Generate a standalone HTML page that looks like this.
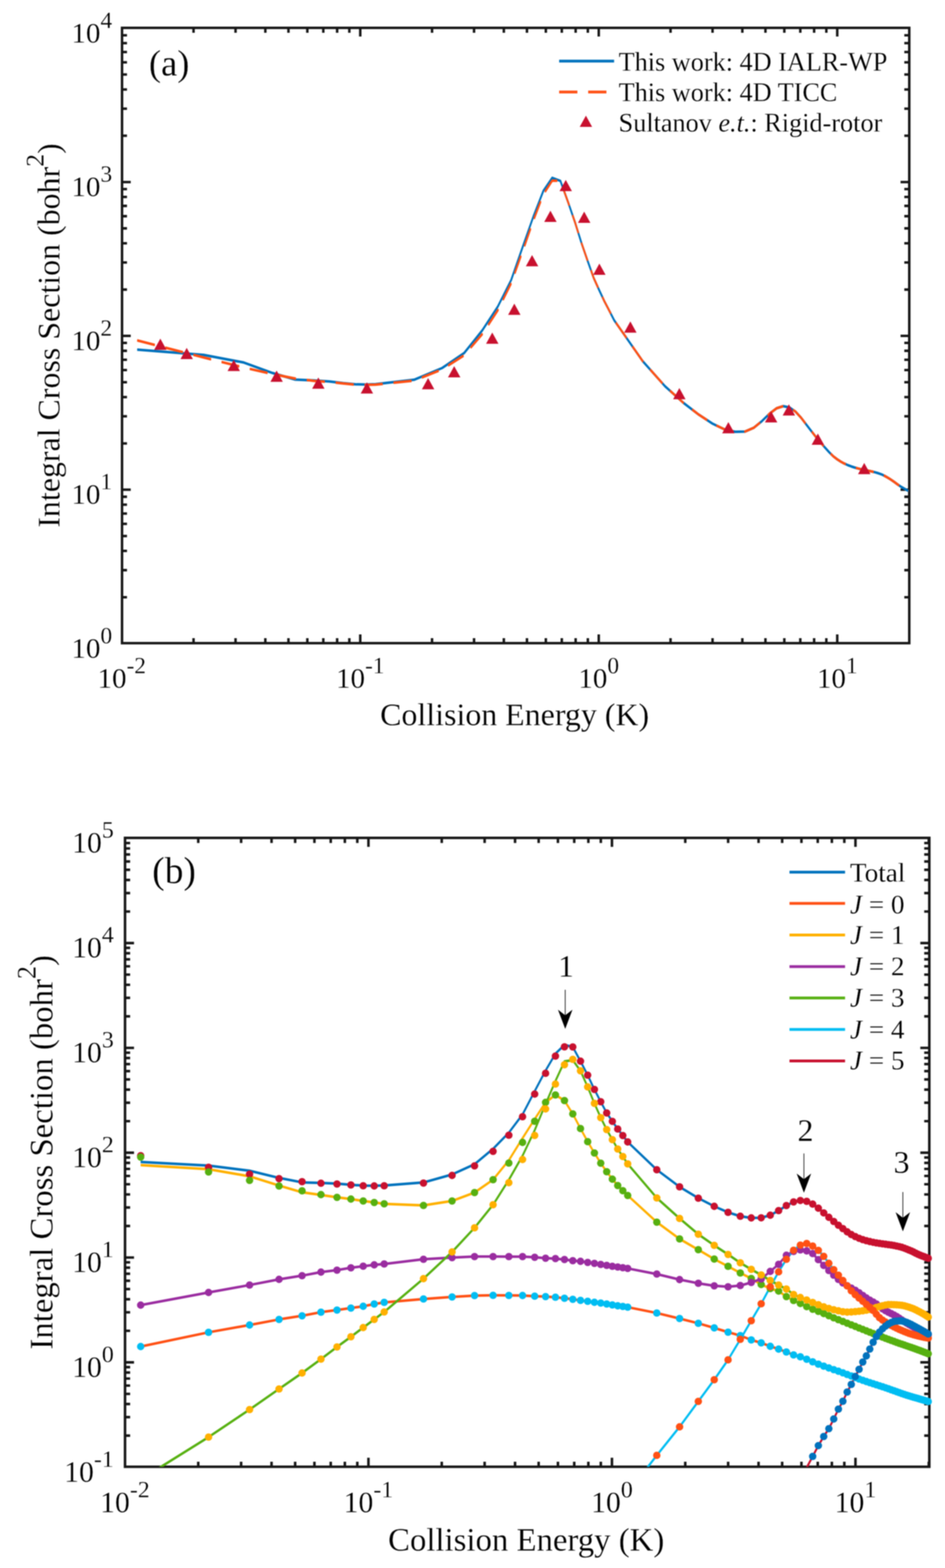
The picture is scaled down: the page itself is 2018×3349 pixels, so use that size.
<!DOCTYPE html>
<html lang="en"><head><meta charset="utf-8"><title>Integral cross sections</title>
<style>html,body{margin:0;padding:0;background:#fff}svg{display:block;filter:blur(0.9px)}text{font-family:"Liberation Serif", "DejaVu Serif", serif;fill:#000;stroke:#fff;stroke-width:0.35px;paint-order:fill stroke}</style></head><body>
<svg width="2018" height="3349" viewBox="0 0 2018 3349">
<rect width="2018" height="3349" fill="#fff"/>
<defs>
<clipPath id="ca"><rect x="260.6" y="59.5" width="1681.1" height="1314.2"/></clipPath>
<clipPath id="cb"><rect x="267" y="1789.6" width="1717.5" height="1343.2"/></clipPath>
</defs>
<g id="plot-a">
<path d="M413.31 1373.7v-10.6M413.31 59.5v10.6M503 1373.7v-10.6M503 59.5v10.6M566.63 1373.7v-10.6M566.63 59.5v10.6M615.99 1373.7v-10.6M615.99 59.5v10.6M656.31 1373.7v-10.6M656.31 59.5v10.6M690.41 1373.7v-10.6M690.41 59.5v10.6M719.94 1373.7v-10.6M719.94 59.5v10.6M746 1373.7v-10.6M746 59.5v10.6M769.3 1373.7v-18.6M769.3 59.5v18.6M922.61 1373.7v-10.6M922.61 59.5v10.6M1012.3 1373.7v-10.6M1012.3 59.5v10.6M1075.93 1373.7v-10.6M1075.93 59.5v10.6M1125.29 1373.7v-10.6M1125.29 59.5v10.6M1165.61 1373.7v-10.6M1165.61 59.5v10.6M1199.71 1373.7v-10.6M1199.71 59.5v10.6M1229.24 1373.7v-10.6M1229.24 59.5v10.6M1255.3 1373.7v-10.6M1255.3 59.5v10.6M1278.6 1373.7v-18.6M1278.6 59.5v18.6M1431.91 1373.7v-10.6M1431.91 59.5v10.6M1521.6 1373.7v-10.6M1521.6 59.5v10.6M1585.23 1373.7v-10.6M1585.23 59.5v10.6M1634.59 1373.7v-10.6M1634.59 59.5v10.6M1674.91 1373.7v-10.6M1674.91 59.5v10.6M1709.01 1373.7v-10.6M1709.01 59.5v10.6M1738.54 1373.7v-10.6M1738.54 59.5v10.6M1764.6 1373.7v-10.6M1764.6 59.5v10.6M1787.9 1373.7v-18.6M1787.9 59.5v18.6M260.6 1275.6h10.6M1941.7 1275.6h-10.6M260.6 1217.74h10.6M1941.7 1217.74h-10.6M260.6 1176.69h10.6M1941.7 1176.69h-10.6M260.6 1144.85h10.6M1941.7 1144.85h-10.6M260.6 1118.84h10.6M1941.7 1118.84h-10.6M260.6 1096.84h10.6M1941.7 1096.84h-10.6M260.6 1077.79h10.6M1941.7 1077.79h-10.6M260.6 1060.98h10.6M1941.7 1060.98h-10.6M260.6 1045.95h18.6M1941.7 1045.95h-18.6M260.6 947.05h10.6M1941.7 947.05h-10.6M260.6 889.19h10.6M1941.7 889.19h-10.6M260.6 848.14h10.6M1941.7 848.14h-10.6M260.6 816.3h10.6M1941.7 816.3h-10.6M260.6 790.29h10.6M1941.7 790.29h-10.6M260.6 768.29h10.6M1941.7 768.29h-10.6M260.6 749.24h10.6M1941.7 749.24h-10.6M260.6 732.43h10.6M1941.7 732.43h-10.6M260.6 717.4h18.6M1941.7 717.4h-18.6M260.6 618.5h10.6M1941.7 618.5h-10.6M260.6 560.64h10.6M1941.7 560.64h-10.6M260.6 519.59h10.6M1941.7 519.59h-10.6M260.6 487.75h10.6M1941.7 487.75h-10.6M260.6 461.74h10.6M1941.7 461.74h-10.6M260.6 439.74h10.6M1941.7 439.74h-10.6M260.6 420.69h10.6M1941.7 420.69h-10.6M260.6 403.88h10.6M1941.7 403.88h-10.6M260.6 388.85h18.6M1941.7 388.85h-18.6M260.6 289.95h10.6M1941.7 289.95h-10.6M260.6 232.09h10.6M1941.7 232.09h-10.6M260.6 191.04h10.6M1941.7 191.04h-10.6M260.6 159.2h10.6M1941.7 159.2h-10.6M260.6 133.19h10.6M1941.7 133.19h-10.6M260.6 111.19h10.6M1941.7 111.19h-10.6M260.6 92.14h10.6M1941.7 92.14h-10.6M260.6 75.33h10.6M1941.7 75.33h-10.6" stroke="#161616" stroke-width="5.3" fill="none"/>
<rect x="260.6" y="59.5" width="1681.1" height="1314.2" fill="none" stroke="#161616" stroke-width="5.3"/>
<g clip-path="url(#ca)">
<polyline points="292.91,745.7 434.88,756.9 520.65,773.2 582.3,795.7 630.46,809.7 669.98,811.3 703.5,813.7 732.6,817.2 758.32,819.7 781.35,820.2 802.21,819.4 884.4,810 944.18,784.9 991.2,752.9 1029.95,704.4 1062.92,653.9 1091.6,596.9 1116.99,523.9 1139.76,459.3 1160.4,406.4 1179.28,378.7 1196.68,385.2 1212.8,429.8 1227.83,473.6 1241.9,518.5 1255.14,556.9 1267.62,592.1 1279.44,618.4 1290.65,642.4 1301.33,662.9 1311.51,682.9 1372.36,770.11 1420.03,823.74 1459.23,859.13 1492.51,884.72 1521.44,903.66 1547.01,915.87 1569.94,921.07 1590.7,920.73 1609.69,912.6 1627.17,898.16 1643.37,882.43 1658.47,870.87 1672.6,866.42 1685.88,869.17 1698.41,877.74 1710.27,890.59 1721.52,905.32 1732.23,919.22 1742.45,932.17 1752.21,944 1761.56,954.69 1770.53,964.68 1779.16,973.19 1787.45,979.66 1795.45,984.94 1803.17,989.08 1810.63,992.4 1817.85,995.13 1824.83,997.41 1831.61,999.32 1838.18,1000.99 1844.56,1002.43 1850.76,1003.63 1856.8,1004.79 1862.67,1006.11 1868.39,1007.57 1873.97,1009.17 1879.41,1010.98 1884.72,1013.12 1889.91,1015.76 1894.97,1018.7 1899.93,1021.74 1904.77,1024.83 1909.51,1028.19 1914.15,1031.63 1918.7,1034.9 1923.15,1037.82 1927.52,1040.44 1931.8,1042.89 1936,1045.24 1940.12,1047.58" fill="none" stroke="#0072BD" stroke-width="3.3" stroke-linejoin="round" />
<polyline points="292.91,747.9 434.88,759.1 520.65,775.4 582.3,797.9 630.46,811.9 669.98,813.5 703.5,815.9 732.6,819.4 758.32,821.9 781.35,822.4 802.21,821.6 884.4,812.2 944.18,787.1 991.2,755.1 1029.95,706.6 1062.92,656.1 1091.6,599.1 1116.99,526.1 1139.76,461.5 1160.4,408.6 1179.28,380.9 1196.68,387.4 1212.8,432 1227.83,475.8 1241.9,520.7 1255.14,559.1 1267.62,594.3 1279.44,620.6 1290.65,644.6 1301.33,665.1 1311.51,685.1 1372.36,772.31 1420.03,825.94 1459.23,861.33 1492.51,886.92 1521.44,905.86 1547.01,918.07 1569.94,923.27 1590.7,922.93 1609.69,914.8 1627.17,900.36 1643.37,884.63 1658.47,873.07 1672.6,868.62 1685.88,871.37 1698.41,879.94 1710.27,892.79 1721.52,907.52 1732.23,921.42 1742.45,934.37 1752.21,946.2 1761.56,956.89 1770.53,966.88 1779.16,975.39 1787.45,981.86 1795.45,987.14 1803.17,991.28 1810.63,994.6 1817.85,997.33 1824.83,999.61 1831.61,1001.52 1838.18,1003.19 1844.56,1004.63 1850.76,1005.83 1856.8,1006.99 1862.67,1008.31 1868.39,1009.77 1873.97,1011.37 1879.41,1013.18 1884.72,1015.32 1889.91,1017.96 1894.97,1020.9 1899.93,1023.94 1904.77,1027.03 1909.51,1030.39 1914.15,1033.83 1918.7,1037.1 1923.15,1040.02 1927.52,1042.64 1931.8,1045.09 1936,1047.44 1940.12,1049.78" fill="none" stroke="#0072BD" stroke-width="3.3" stroke-linejoin="round" />
<polyline points="292.91,725.9 434.88,762.4 520.65,783.9 582.3,797.9 630.46,807.4 669.98,812.4 703.5,814.9 732.6,817.9 758.32,820.4 781.35,820.9 802.21,820.4 884.4,811.9 944.18,787.9 991.2,757.9 1029.95,712.4 1062.92,661.9 1091.6,603.9 1116.99,532.9 1139.76,467.8 1160.4,413.9 1179.28,384.7 1196.68,385.2 1212.8,429.8 1227.83,473.6 1241.9,518.5 1255.14,556.9 1267.62,592.1 1279.44,618.4 1290.65,642.4 1301.33,662.9 1311.51,682.9 1372.36,770.11 1420.03,823.74 1459.23,859.13 1492.51,884.72 1521.44,903.66 1547.01,915.87 1569.94,921.07 1590.7,920.73 1609.69,912.6 1627.17,898.16 1643.37,882.43 1658.47,870.87 1672.6,866.42 1685.88,869.17 1698.41,877.74 1710.27,890.59 1721.52,905.32 1732.23,919.22 1742.45,932.17 1752.21,944 1761.56,954.69 1770.53,964.68 1779.16,973.19 1787.45,979.66 1795.45,984.94 1803.17,989.08 1810.63,992.4 1817.85,995.13 1824.83,997.41 1831.61,999.32 1838.18,1000.99 1844.56,1002.43 1850.76,1003.63 1856.8,1004.79 1862.67,1006.11 1868.39,1007.57 1873.97,1009.17 1879.41,1010.98 1884.72,1013.12 1889.91,1015.76 1894.97,1018.7 1899.93,1021.74 1904.77,1024.83 1909.51,1028.19 1914.15,1031.63 1918.7,1034.9 1923.15,1037.82 1927.52,1040.44 1931.8,1042.89 1936,1045.24 1940.12,1047.58" fill="none" stroke="#FF5014" stroke-width="3.3" stroke-linejoin="round" stroke-dasharray="39 23" stroke-linejoin="round"/>
<polyline points="292.91,728.1 434.88,764.6 520.65,786.1 582.3,800.1 630.46,809.6 669.98,814.6 703.5,817.1 732.6,820.1 758.32,822.6 781.35,823.1 802.21,822.6 884.4,814.1 944.18,790.1 991.2,760.1 1029.95,714.6 1062.92,664.1 1091.6,606.1 1116.99,535.1 1139.76,470 1160.4,416.1 1179.28,386.9 1196.68,387.4 1212.8,432 1227.83,475.8 1241.9,520.7 1255.14,559.1 1267.62,594.3 1279.44,620.6 1290.65,644.6 1301.33,665.1 1311.51,685.1 1372.36,772.31 1420.03,825.94 1459.23,861.33 1492.51,886.92 1521.44,905.86 1547.01,918.07 1569.94,923.27 1590.7,922.93 1609.69,914.8 1627.17,900.36 1643.37,884.63 1658.47,873.07 1672.6,868.62 1685.88,871.37 1698.41,879.94 1710.27,892.79 1721.52,907.52 1732.23,921.42 1742.45,934.37 1752.21,946.2 1761.56,956.89 1770.53,966.88 1779.16,975.39 1787.45,981.86 1795.45,987.14 1803.17,991.28 1810.63,994.6 1817.85,997.33 1824.83,999.61 1831.61,1001.52 1838.18,1003.19 1844.56,1004.63 1850.76,1005.83 1856.8,1006.99 1862.67,1008.31 1868.39,1009.77 1873.97,1011.37 1879.41,1013.18 1884.72,1015.32 1889.91,1017.96 1894.97,1020.9 1899.93,1023.94 1904.77,1027.03 1909.51,1030.39 1914.15,1033.83 1918.7,1037.1 1923.15,1040.02 1927.52,1042.64 1931.8,1045.09 1936,1047.44 1940.12,1049.78" fill="none" stroke="#FF5014" stroke-width="3.3" stroke-linejoin="round" stroke-dasharray="39 23" stroke-linejoin="round"/>
</g>
<path d="M342.4 723.3l13.25 24h-26.5zM398.7 742.9l13.25 24h-26.5zM499.2 768.5l13.25 24h-26.5zM590.7 791.4l13.25 24h-26.5zM679.8 806.2l13.25 24h-26.5zM783.5 816.5l13.25 24h-26.5zM914.2 807.6l13.25 24h-26.5zM969.9 782l13.25 24h-26.5zM1051.2 710.3l13.25 24h-26.5zM1098.3 648.4l13.25 24h-26.5zM1136.2 544.8l13.25 24h-26.5zM1175.4 449.9l13.25 24h-26.5zM1208.1 384.2l13.25 24h-26.5zM1247.5 451.9l13.25 24h-26.5zM1279.9 563.1l13.25 24h-26.5zM1346.1 686.6l13.25 24h-26.5zM1450.7 828.7l13.25 24h-26.5zM1555.4 901.4l13.25 24h-26.5zM1646.7 878.2l13.25 24h-26.5zM1684.6 863.4l13.25 24h-26.5zM1746.5 926.1l13.25 24h-26.5zM1845.5 988.7l13.25 24h-26.5z" fill="#C8102E"/>
<path d="M1194 130.6H1311.4" stroke="#0072BD" stroke-width="6.0"/>
<path d="M1194 196.6H1311.4" stroke="#FF5014" stroke-width="6.0" stroke-dasharray="39 23"/>
<path d="M1251.2 247l13.25 24h-26.5z" fill="#C8102E"/>
<text x="1321" y="151.4" font-size="56">This work: 4D IALR-WP</text>
<text x="1321" y="215.5" font-size="56">This work: 4D TICC</text>
<text x="1321" y="280.7" font-size="56">Sultanov <tspan font-style="italic">e.t.</tspan>: Rigid-rotor</text>
<text x="318" y="161" font-size="78">(a)</text>
<text x="260" y="1468.9" font-size="62" text-anchor="middle">10<tspan font-size="50" dy="-31">-2</tspan></text>
<text x="769.3" y="1468.9" font-size="62" text-anchor="middle">10<tspan font-size="50" dy="-31">-1</tspan></text>
<text x="1278.6" y="1468.9" font-size="62" text-anchor="middle">10<tspan font-size="50" dy="-31">0</tspan></text>
<text x="1787.9" y="1468.9" font-size="62" text-anchor="middle">10<tspan font-size="50" dy="-31">1</tspan></text>
<text x="239.5" y="1404.7" font-size="62" text-anchor="end">10<tspan font-size="50" dy="-31">0</tspan></text>
<text x="239.5" y="1076.15" font-size="62" text-anchor="end">10<tspan font-size="50" dy="-31">1</tspan></text>
<text x="239.5" y="747.6" font-size="62" text-anchor="end">10<tspan font-size="50" dy="-31">2</tspan></text>
<text x="239.5" y="419.05" font-size="62" text-anchor="end">10<tspan font-size="50" dy="-31">3</tspan></text>
<text x="239.5" y="90.5" font-size="62" text-anchor="end">10<tspan font-size="50" dy="-31">4</tspan></text>
<text x="1099" y="1548.8" font-size="68.2" text-anchor="middle">Collision Energy (K)</text>
<text transform="translate(127.4 716.6) rotate(-90)" font-size="68.2" text-anchor="middle">Integral Cross Section (bohr<tspan font-size="55" dy="-34.1">2</tspan><tspan dy="34.1">)</tspan></text>
</g>
<g id="plot-b">
<path d="M423.34 3132.8v-10.9M423.34 1789.6v10.9M514.9 3132.8v-10.9M514.9 1789.6v10.9M579.87 3132.8v-10.9M579.87 1789.6v10.9M630.26 3132.8v-10.9M630.26 1789.6v10.9M671.44 3132.8v-10.9M671.44 1789.6v10.9M706.25 3132.8v-10.9M706.25 1789.6v10.9M736.41 3132.8v-10.9M736.41 1789.6v10.9M763.01 3132.8v-10.9M763.01 1789.6v10.9M786.8 3132.8v-19.2M786.8 1789.6v19.2M943.34 3132.8v-10.9M943.34 1789.6v10.9M1034.9 3132.8v-10.9M1034.9 1789.6v10.9M1099.87 3132.8v-10.9M1099.87 1789.6v10.9M1150.26 3132.8v-10.9M1150.26 1789.6v10.9M1191.44 3132.8v-10.9M1191.44 1789.6v10.9M1226.25 3132.8v-10.9M1226.25 1789.6v10.9M1256.41 3132.8v-10.9M1256.41 1789.6v10.9M1283.01 3132.8v-10.9M1283.01 1789.6v10.9M1306.8 3132.8v-19.2M1306.8 1789.6v19.2M1463.34 3132.8v-10.9M1463.34 1789.6v10.9M1554.9 3132.8v-10.9M1554.9 1789.6v10.9M1619.87 3132.8v-10.9M1619.87 1789.6v10.9M1670.26 3132.8v-10.9M1670.26 1789.6v10.9M1711.44 3132.8v-10.9M1711.44 1789.6v10.9M1746.25 3132.8v-10.9M1746.25 1789.6v10.9M1776.41 3132.8v-10.9M1776.41 1789.6v10.9M1803.01 3132.8v-10.9M1803.01 1789.6v10.9M1826.8 3132.8v-19.2M1826.8 1789.6v19.2M1983.34 3132.8v-10.9M1983.34 1789.6v10.9M267 3066.21h10.9M1984.5 3066.21h-10.9M267 3026.79h10.9M1984.5 3026.79h-10.9M267 2998.82h10.9M1984.5 2998.82h-10.9M267 2977.12h10.9M1984.5 2977.12h-10.9M267 2959.4h10.9M1984.5 2959.4h-10.9M267 2944.41h10.9M1984.5 2944.41h-10.9M267 2931.43h10.9M1984.5 2931.43h-10.9M267 2919.97h10.9M1984.5 2919.97h-10.9M267 2909.73h19.2M1984.5 2909.73h-19.2M267 2842.34h10.9M1984.5 2842.34h-10.9M267 2802.92h10.9M1984.5 2802.92h-10.9M267 2774.95h10.9M1984.5 2774.95h-10.9M267 2753.25h10.9M1984.5 2753.25h-10.9M267 2735.53h10.9M1984.5 2735.53h-10.9M267 2720.54h10.9M1984.5 2720.54h-10.9M267 2707.56h10.9M1984.5 2707.56h-10.9M267 2696.1h10.9M1984.5 2696.1h-10.9M267 2685.86h19.2M1984.5 2685.86h-19.2M267 2618.47h10.9M1984.5 2618.47h-10.9M267 2579.05h10.9M1984.5 2579.05h-10.9M267 2551.08h10.9M1984.5 2551.08h-10.9M267 2529.38h10.9M1984.5 2529.38h-10.9M267 2511.66h10.9M1984.5 2511.66h-10.9M267 2496.67h10.9M1984.5 2496.67h-10.9M267 2483.69h10.9M1984.5 2483.69h-10.9M267 2472.23h10.9M1984.5 2472.23h-10.9M267 2461.99h19.2M1984.5 2461.99h-19.2M267 2394.6h10.9M1984.5 2394.6h-10.9M267 2355.18h10.9M1984.5 2355.18h-10.9M267 2327.21h10.9M1984.5 2327.21h-10.9M267 2305.51h10.9M1984.5 2305.51h-10.9M267 2287.79h10.9M1984.5 2287.79h-10.9M267 2272.8h10.9M1984.5 2272.8h-10.9M267 2259.82h10.9M1984.5 2259.82h-10.9M267 2248.36h10.9M1984.5 2248.36h-10.9M267 2238.12h19.2M1984.5 2238.12h-19.2M267 2170.73h10.9M1984.5 2170.73h-10.9M267 2131.31h10.9M1984.5 2131.31h-10.9M267 2103.34h10.9M1984.5 2103.34h-10.9M267 2081.64h10.9M1984.5 2081.64h-10.9M267 2063.92h10.9M1984.5 2063.92h-10.9M267 2048.93h10.9M1984.5 2048.93h-10.9M267 2035.95h10.9M1984.5 2035.95h-10.9M267 2024.49h10.9M1984.5 2024.49h-10.9M267 2014.25h19.2M1984.5 2014.25h-19.2M267 1946.86h10.9M1984.5 1946.86h-10.9M267 1907.44h10.9M1984.5 1907.44h-10.9M267 1879.47h10.9M1984.5 1879.47h-10.9M267 1857.77h10.9M1984.5 1857.77h-10.9M267 1840.05h10.9M1984.5 1840.05h-10.9M267 1825.06h10.9M1984.5 1825.06h-10.9M267 1812.08h10.9M1984.5 1812.08h-10.9M267 1800.62h10.9M1984.5 1800.62h-10.9" stroke="#161616" stroke-width="5.4" fill="none"/>
<rect x="267" y="1789.6" width="1717.5" height="1343.2" fill="none" stroke="#161616" stroke-width="5.4"/>
<g clip-path="url(#cb)">
<polyline points="300.41,2480.67 445.36,2488.3 532.93,2499.41 595.87,2514.74 645.04,2524.28 685.39,2525.37 719.62,2527 749.33,2529.39 775.59,2531.09 799.11,2531.43 820.41,2530.89 904.32,2524.48 965.36,2507.38 1013.36,2485.57 1052.93,2452.53 1086.59,2418.12 1115.87,2379.28 1141.79,2329.54 1165.04,2285.52 1186.12,2249.47 1205.39,2230.6 1223.15,2235.03 1239.62,2265.42 1254.96,2295.26 1269.33,2325.86 1282.84,2352.02 1295.59,2376.01 1307.65,2393.93 1319.11,2410.28 1330.01,2424.25 1340.41,2437.88 1402.53,2497.3 1451.2,2533.85 1491.22,2557.95 1525.21,2575.4 1554.74,2588.3 1580.85,2596.62 1604.26,2600.16 1625.46,2599.93 1644.85,2594.39 1662.7,2584.56 1679.24,2573.83 1694.65,2565.96 1709.08,2562.93 1722.64,2564.8 1735.43,2570.64 1747.54,2579.39 1759.03,2589.43 1769.96,2598.91 1780.39,2607.73 1790.36,2615.78 1799.91,2623.07 1809.07,2629.88 1817.87,2635.67 1826.34,2640.09 1834.51,2643.68 1842.39,2646.5 1850.01,2648.76 1857.37,2650.63 1864.51,2652.18 1871.42,2653.48 1878.13,2654.62 1884.65,2655.6 1890.98,2656.42 1897.15,2657.21 1903.14,2658.11 1908.99,2659.1 1914.68,2660.19 1920.23,2661.43 1925.66,2662.89 1930.95,2664.68 1936.12,2666.68 1941.18,2668.76 1946.13,2670.86 1950.97,2673.16 1955.71,2675.49 1960.35,2677.73 1964.9,2679.72 1969.35,2681.5 1973.73,2683.17 1978.01,2684.77 1982.22,2686.36" fill="none" stroke="#0072BD" stroke-width="3.3" stroke-linejoin="round" />
<polyline points="300.41,2482.87 445.36,2490.5 532.93,2501.61 595.87,2516.94 645.04,2526.48 685.39,2527.57 719.62,2529.2 749.33,2531.59 775.59,2533.29 799.11,2533.63 820.41,2533.09 904.32,2526.68 965.36,2509.58 1013.36,2487.77 1052.93,2454.73 1086.59,2420.32 1115.87,2381.48 1141.79,2331.74 1165.04,2287.72 1186.12,2251.67 1205.39,2232.8 1223.15,2237.23 1239.62,2267.62 1254.96,2297.46 1269.33,2328.06 1282.84,2354.22 1295.59,2378.21 1307.65,2396.13 1319.11,2412.48 1330.01,2426.45 1340.41,2440.08 1402.53,2499.5 1451.2,2536.05 1491.22,2560.15 1525.21,2577.6 1554.74,2590.5 1580.85,2598.82 1604.26,2602.36 1625.46,2602.13 1644.85,2596.59 1662.7,2586.76 1679.24,2576.03 1694.65,2568.16 1709.08,2565.13 1722.64,2567 1735.43,2572.84 1747.54,2581.59 1759.03,2591.63 1769.96,2601.11 1780.39,2609.93 1790.36,2617.98 1799.91,2625.27 1809.07,2632.08 1817.87,2637.87 1826.34,2642.29 1834.51,2645.88 1842.39,2648.7 1850.01,2650.96 1857.37,2652.83 1864.51,2654.38 1871.42,2655.68 1878.13,2656.82 1884.65,2657.8 1890.98,2658.62 1897.15,2659.41 1903.14,2660.31 1908.99,2661.3 1914.68,2662.39 1920.23,2663.63 1925.66,2665.09 1930.95,2666.88 1936.12,2668.88 1941.18,2670.96 1946.13,2673.06 1950.97,2675.36 1955.71,2677.69 1960.35,2679.93 1964.9,2681.92 1969.35,2683.7 1973.73,2685.37 1978.01,2686.97 1982.22,2688.56" fill="none" stroke="#0072BD" stroke-width="3.3" stroke-linejoin="round" />
<polyline points="300.41,2874.9 445.36,2844.5 532.93,2828.9 595.87,2817 645.04,2809.2 685.39,2801.5 719.62,2797 749.33,2792.7 775.59,2788.9 799.11,2784.1 820.41,2780.6 904.32,2773.3 965.36,2769 1013.36,2766.1 1052.93,2765.5 1086.59,2765.7 1115.87,2765.9 1141.79,2767.3 1165.04,2768.2 1186.12,2769.6 1205.39,2771.7 1223.15,2774 1239.62,2776.3 1254.96,2778.3 1269.33,2780.4 1282.84,2782.1 1295.59,2784.1 1307.65,2786.1 1319.11,2787.9 1330.01,2789.3 1340.41,2790.8 1402.53,2803.3 1451.2,2815.1 1491.22,2825.3 1525.21,2835.1 1554.74,2844.2 1580.85,2851.5 1604.26,2860.7 1625.46,2867.1 1644.85,2874.4 1662.7,2880.4 1679.24,2886.6 1694.65,2892.8 1709.08,2896.86 1722.64,2902.05 1735.43,2907.52 1747.54,2912.57 1759.03,2916.83 1769.96,2920.64 1780.39,2924.19 1790.36,2927.63 1799.91,2931.06 1809.07,2934.5 1817.87,2937.89 1826.34,2941.15 1834.51,2944.22 1842.39,2947.06 1850.01,2949.66 1857.37,2952.07 1864.51,2954.35 1871.42,2956.54 1878.13,2958.68 1884.65,2960.8 1890.98,2962.93 1897.15,2965.08 1903.14,2967.22 1908.99,2969.32 1914.68,2971.38 1920.23,2973.36 1925.66,2975.25 1930.95,2977.03 1936.12,2978.71 1941.18,2980.28 1946.13,2981.77 1950.97,2983.19 1955.71,2984.56 1960.35,2985.89 1964.9,2987.19 1969.35,2988.47 1973.73,2989.74 1978.01,2991.02 1982.22,2992.3" fill="none" stroke="#FF5014" stroke-width="3.3" stroke-linejoin="round" />
<polyline points="300.41,2877.1 445.36,2846.7 532.93,2831.1 595.87,2819.2 645.04,2811.4 685.39,2803.7 719.62,2799.2 749.33,2794.9 775.59,2791.1 799.11,2786.3 820.41,2782.8 904.32,2775.5 965.36,2771.2 1013.36,2768.3 1052.93,2767.7 1086.59,2767.9 1115.87,2768.1 1141.79,2769.5 1165.04,2770.4 1186.12,2771.8 1205.39,2773.9 1223.15,2776.2 1239.62,2778.5 1254.96,2780.5 1269.33,2782.6 1282.84,2784.3 1295.59,2786.3 1307.65,2788.3 1319.11,2790.1 1330.01,2791.5 1340.41,2793 1402.53,2805.5 1451.2,2817.3 1491.22,2827.5 1525.21,2837.3 1554.74,2846.4 1580.85,2853.7 1604.26,2862.9 1625.46,2869.3 1644.85,2876.6 1662.7,2882.6 1679.24,2888.8 1694.65,2895 1709.08,2899.06 1722.64,2904.25 1735.43,2909.72 1747.54,2914.77 1759.03,2919.03 1769.96,2922.84 1780.39,2926.39 1790.36,2929.83 1799.91,2933.26 1809.07,2936.7 1817.87,2940.09 1826.34,2943.35 1834.51,2946.42 1842.39,2949.26 1850.01,2951.86 1857.37,2954.27 1864.51,2956.55 1871.42,2958.74 1878.13,2960.88 1884.65,2963 1890.98,2965.13 1897.15,2967.28 1903.14,2969.42 1908.99,2971.52 1914.68,2973.58 1920.23,2975.56 1925.66,2977.45 1930.95,2979.23 1936.12,2980.91 1941.18,2982.48 1946.13,2983.97 1950.97,2985.39 1955.71,2986.76 1960.35,2988.09 1964.9,2989.39 1969.35,2990.67 1973.73,2991.94 1978.01,2993.22 1982.22,2994.5" fill="none" stroke="#FF5014" stroke-width="3.3" stroke-linejoin="round" />
<polyline points="300.41,2487.3 445.36,2496.2 532.93,2511.3 595.87,2531 645.04,2545.5 685.39,2551.2 719.62,2556.2 749.33,2559.9 775.59,2564 799.11,2567.2 820.41,2570.1 904.32,2573.5 965.36,2564 1013.36,2546 1052.93,2518.5 1086.59,2477.1 1115.87,2429.9 1141.79,2389.2 1165.04,2353.4 1186.12,2337.6 1205.39,2349.5 1223.15,2378.1 1239.62,2409.3 1254.96,2437.3 1269.33,2461.5 1282.84,2483.2 1295.59,2501.5 1307.65,2517.4 1319.11,2531 1330.01,2542 1340.41,2552.2 1402.53,2609.2 1451.2,2645 1491.22,2668.1 1525.21,2688.1 1554.74,2703.6 1580.85,2717.7 1604.26,2729.5 1625.46,2742.4 1644.85,2751.1 1662.7,2756.4 1679.24,2768.22 1694.65,2776.52 1709.08,2782.92 1722.64,2789.64 1735.43,2795.25 1747.54,2799.8 1759.03,2804.4 1769.96,2809.09 1780.39,2813.5 1790.36,2817.56 1799.91,2821.36 1809.07,2824.99 1817.87,2828.49 1826.34,2831.89 1834.51,2835.19 1842.39,2838.37 1850.01,2841.42 1857.37,2844.35 1864.51,2847.15 1871.42,2849.82 1878.13,2852.39 1884.65,2854.87 1890.98,2857.26 1897.15,2859.55 1903.14,2861.77 1908.99,2863.91 1914.68,2865.97 1920.23,2867.94 1925.66,2869.82 1930.95,2871.65 1936.12,2873.43 1941.18,2875.18 1946.13,2876.89 1950.97,2878.6 1955.71,2880.29 1960.35,2881.99 1964.9,2883.67 1969.35,2885.35 1973.73,2887 1978.01,2888.63 1982.22,2890.24" fill="none" stroke="#FFB000" stroke-width="3.3" stroke-linejoin="round" />
<polyline points="300.41,2489.5 445.36,2498.4 532.93,2513.5 595.87,2533.2 645.04,2547.7 685.39,2553.4 719.62,2558.4 749.33,2562.1 775.59,2566.2 799.11,2569.4 820.41,2572.3 904.32,2575.7 965.36,2566.2 1013.36,2548.2 1052.93,2520.7 1086.59,2479.3 1115.87,2432.1 1141.79,2391.4 1165.04,2355.6 1186.12,2339.8 1205.39,2351.7 1223.15,2380.3 1239.62,2411.5 1254.96,2439.5 1269.33,2463.7 1282.84,2485.4 1295.59,2503.7 1307.65,2519.6 1319.11,2533.2 1330.01,2544.2 1340.41,2554.4 1402.53,2611.4 1451.2,2647.2 1491.22,2670.3 1525.21,2690.3 1554.74,2705.8 1580.85,2719.9 1604.26,2731.7 1625.46,2744.6 1644.85,2753.3 1662.7,2758.6 1679.24,2770.42 1694.65,2778.72 1709.08,2785.12 1722.64,2791.84 1735.43,2797.45 1747.54,2802 1759.03,2806.6 1769.96,2811.29 1780.39,2815.7 1790.36,2819.76 1799.91,2823.56 1809.07,2827.19 1817.87,2830.69 1826.34,2834.09 1834.51,2837.39 1842.39,2840.57 1850.01,2843.62 1857.37,2846.55 1864.51,2849.35 1871.42,2852.02 1878.13,2854.59 1884.65,2857.07 1890.98,2859.46 1897.15,2861.75 1903.14,2863.97 1908.99,2866.11 1914.68,2868.17 1920.23,2870.14 1925.66,2872.02 1930.95,2873.85 1936.12,2875.63 1941.18,2877.38 1946.13,2879.09 1950.97,2880.8 1955.71,2882.49 1960.35,2884.19 1964.9,2885.87 1969.35,2887.55 1973.73,2889.2 1978.01,2890.83 1982.22,2892.44" fill="none" stroke="#FFB000" stroke-width="3.3" stroke-linejoin="round" />
<polyline points="300.41,2786.4 445.36,2759.4 532.93,2743.5 595.87,2731.4 645.04,2723.5 685.39,2715.9 719.62,2711.7 749.33,2706.7 775.59,2703.3 799.11,2700.4 820.41,2698.6 904.32,2688.5 965.36,2685 1013.36,2682.7 1052.93,2682.7 1086.59,2682.8 1115.87,2682.8 1141.79,2684.2 1165.04,2686.2 1186.12,2687.1 1205.39,2689.1 1223.15,2691.5 1239.62,2692.9 1254.96,2695.2 1269.33,2697.2 1282.84,2699.6 1295.59,2701.6 1307.65,2703.6 1319.11,2705.1 1330.01,2706.5 1340.41,2708 1402.53,2720.1 1451.2,2731.9 1491.22,2739.8 1525.21,2745.2 1554.74,2747.2 1580.85,2744.6 1604.26,2738.1 1625.46,2730.6 1644.85,2714.4 1662.7,2699.3 1679.24,2679.9 1694.65,2671.69 1709.08,2668.6 1722.64,2670.63 1735.43,2676.33 1747.54,2689.3 1759.03,2701.64 1769.96,2712.55 1780.39,2722.48 1790.36,2731.53 1799.91,2739.11 1809.07,2745.02 1817.87,2750.01 1826.34,2754.84 1834.51,2760.05 1842.39,2765.71 1850.01,2771.15 1857.37,2775.81 1864.51,2779.74 1871.42,2783.94 1878.13,2789.07 1884.65,2794.22 1890.98,2798.35 1897.15,2801.63 1903.14,2804.57 1908.99,2807.54 1914.68,2810.83 1920.23,2814.37 1925.66,2817.98 1930.95,2821.52 1936.12,2824.85 1941.18,2827.87 1946.13,2830.68 1950.97,2833.35 1955.71,2835.89 1960.35,2838.34 1964.9,2840.7 1969.35,2843.01 1973.73,2845.26 1978.01,2847.49 1982.22,2849.7" fill="none" stroke="#9A2CA0" stroke-width="3.3" stroke-linejoin="round" />
<polyline points="300.41,2788.6 445.36,2761.6 532.93,2745.7 595.87,2733.6 645.04,2725.7 685.39,2718.1 719.62,2713.9 749.33,2708.9 775.59,2705.5 799.11,2702.6 820.41,2700.8 904.32,2690.7 965.36,2687.2 1013.36,2684.9 1052.93,2684.9 1086.59,2685 1115.87,2685 1141.79,2686.4 1165.04,2688.4 1186.12,2689.3 1205.39,2691.3 1223.15,2693.7 1239.62,2695.1 1254.96,2697.4 1269.33,2699.4 1282.84,2701.8 1295.59,2703.8 1307.65,2705.8 1319.11,2707.3 1330.01,2708.7 1340.41,2710.2 1402.53,2722.3 1451.2,2734.1 1491.22,2742 1525.21,2747.4 1554.74,2749.4 1580.85,2746.8 1604.26,2740.3 1625.46,2732.8 1644.85,2716.6 1662.7,2701.5 1679.24,2682.1 1694.65,2673.89 1709.08,2670.8 1722.64,2672.83 1735.43,2678.53 1747.54,2691.5 1759.03,2703.84 1769.96,2714.75 1780.39,2724.68 1790.36,2733.73 1799.91,2741.31 1809.07,2747.22 1817.87,2752.21 1826.34,2757.04 1834.51,2762.25 1842.39,2767.91 1850.01,2773.35 1857.37,2778.01 1864.51,2781.94 1871.42,2786.14 1878.13,2791.27 1884.65,2796.42 1890.98,2800.55 1897.15,2803.83 1903.14,2806.77 1908.99,2809.74 1914.68,2813.03 1920.23,2816.57 1925.66,2820.18 1930.95,2823.72 1936.12,2827.05 1941.18,2830.07 1946.13,2832.88 1950.97,2835.55 1955.71,2838.09 1960.35,2840.54 1964.9,2842.9 1969.35,2845.21 1973.73,2847.46 1978.01,2849.69 1982.22,2851.9" fill="none" stroke="#9A2CA0" stroke-width="3.3" stroke-linejoin="round" />
<polyline points="300.41,3158.9 445.36,3068.3 532.93,3009.5 595.87,2965.5 645.04,2931.4 685.39,2901.8 719.62,2875.8 749.33,2854.1 775.59,2834.4 799.11,2817 820.41,2801.1 904.32,2729.9 965.36,2672.9 1013.36,2621.3 1052.93,2572.1 1086.59,2518.9 1115.87,2467.4 1141.79,2413 1165.04,2356.9 1186.12,2307.8 1205.39,2266 1223.15,2263.2 1239.62,2286.1 1254.96,2320.4 1269.33,2355.6 1282.84,2386 1295.59,2411.6 1307.65,2433.1 1319.11,2453.1 1330.01,2469.1 1340.41,2484.7 1402.53,2557.5 1451.2,2601.3 1491.22,2635.1 1525.21,2658.8 1554.74,2678.2 1580.85,2696.1 1604.26,2710.1 1625.46,2722 1644.85,2733.8 1662.7,2743.5 1679.24,2752.1 1694.65,2763.76 1709.08,2770.14 1722.64,2775.56 1735.43,2780.69 1747.54,2785.53 1759.03,2789.98 1769.96,2793.43 1780.39,2796.23 1790.36,2798.5 1799.91,2800.58 1809.07,2801.4 1817.87,2801.05 1826.34,2800.36 1834.51,2799.57 1842.39,2798.52 1850.01,2797.21 1857.37,2795.66 1864.51,2793.51 1871.42,2791.26 1878.13,2789.44 1884.65,2787.75 1890.98,2786.23 1897.15,2785.31 1903.14,2785.23 1908.99,2785.43 1914.68,2785.76 1920.23,2786.18 1925.66,2786.74 1930.95,2787.8 1936.12,2789.23 1941.18,2790.86 1946.13,2792.54 1950.97,2794.42 1955.71,2796.59 1960.35,2798.94 1964.9,2801.37 1969.35,2803.82 1973.73,2806.41 1978.01,2809.13 1982.22,2811.9" fill="none" stroke="#56B010" stroke-width="3.3" stroke-linejoin="round" />
<polyline points="300.41,3161.1 445.36,3070.5 532.93,3011.7 595.87,2967.7 645.04,2933.6 685.39,2904 719.62,2878 749.33,2856.3 775.59,2836.6 799.11,2819.2 820.41,2803.3 904.32,2732.1 965.36,2675.1 1013.36,2623.5 1052.93,2574.3 1086.59,2521.1 1115.87,2469.6 1141.79,2415.2 1165.04,2359.1 1186.12,2310 1205.39,2268.2 1223.15,2265.4 1239.62,2288.3 1254.96,2322.6 1269.33,2357.8 1282.84,2388.2 1295.59,2413.8 1307.65,2435.3 1319.11,2455.3 1330.01,2471.3 1340.41,2486.9 1402.53,2559.7 1451.2,2603.5 1491.22,2637.3 1525.21,2661 1554.74,2680.4 1580.85,2698.3 1604.26,2712.3 1625.46,2724.2 1644.85,2736 1662.7,2745.7 1679.24,2754.3 1694.65,2765.96 1709.08,2772.34 1722.64,2777.76 1735.43,2782.89 1747.54,2787.73 1759.03,2792.18 1769.96,2795.63 1780.39,2798.43 1790.36,2800.7 1799.91,2802.78 1809.07,2803.6 1817.87,2803.25 1826.34,2802.56 1834.51,2801.77 1842.39,2800.72 1850.01,2799.41 1857.37,2797.86 1864.51,2795.71 1871.42,2793.46 1878.13,2791.64 1884.65,2789.95 1890.98,2788.43 1897.15,2787.51 1903.14,2787.43 1908.99,2787.63 1914.68,2787.96 1920.23,2788.38 1925.66,2788.94 1930.95,2790 1936.12,2791.43 1941.18,2793.06 1946.13,2794.74 1950.97,2796.62 1955.71,2798.79 1960.35,2801.14 1964.9,2803.57 1969.35,2806.02 1973.73,2808.61 1978.01,2811.33 1982.22,2814.1" fill="none" stroke="#56B010" stroke-width="3.3" stroke-linejoin="round" />
<polyline points="1340.41,3187.9 1402.53,3107.3 1451.2,3046.4 1491.22,2992.1 1525.21,2945.8 1554.74,2903.3 1580.85,2859.6 1604.26,2819.7 1625.46,2783.6 1644.85,2747.4 1662.7,2715.3 1679.24,2688.6 1694.65,2669.2 1709.08,2658.23 1722.64,2654.83 1735.43,2660.36 1747.54,2669.56 1759.03,2682.2 1769.96,2697.15 1780.39,2710.74 1790.36,2722.53 1799.91,2733.92 1809.07,2745.4 1817.87,2755.75 1826.34,2764.13 1834.51,2771.31 1842.39,2778.15 1850.01,2784.73 1857.37,2791.03 1864.51,2797.72 1871.42,2805.93 1878.13,2813.34 1884.65,2818.43 1890.98,2822.62 1897.15,2826.28 1903.14,2829.71 1908.99,2832.83 1914.68,2835.67 1920.23,2838.25 1925.66,2840.62 1930.95,2842.83 1936.12,2844.87 1941.18,2846.71 1946.13,2848.33 1950.97,2849.78 1955.71,2851.09 1960.35,2852.28 1964.9,2853.37 1969.35,2854.36 1973.73,2855.24 1978.01,2856.03 1982.22,2856.79" fill="none" stroke="#00BDF2" stroke-width="3.3" stroke-linejoin="round" />
<polyline points="1340.41,3190.1 1402.53,3109.5 1451.2,3048.6 1491.22,2994.3 1525.21,2948 1554.74,2905.5 1580.85,2861.8 1604.26,2821.9 1625.46,2785.8 1644.85,2749.6 1662.7,2717.5 1679.24,2690.8 1694.65,2671.4 1709.08,2660.43 1722.64,2657.03 1735.43,2662.56 1747.54,2671.76 1759.03,2684.4 1769.96,2699.35 1780.39,2712.94 1790.36,2724.73 1799.91,2736.12 1809.07,2747.6 1817.87,2757.95 1826.34,2766.33 1834.51,2773.51 1842.39,2780.35 1850.01,2786.93 1857.37,2793.23 1864.51,2799.92 1871.42,2808.13 1878.13,2815.54 1884.65,2820.63 1890.98,2824.82 1897.15,2828.48 1903.14,2831.91 1908.99,2835.03 1914.68,2837.87 1920.23,2840.45 1925.66,2842.82 1930.95,2845.03 1936.12,2847.07 1941.18,2848.91 1946.13,2850.53 1950.97,2851.98 1955.71,2853.29 1960.35,2854.48 1964.9,2855.57 1969.35,2856.56 1973.73,2857.44 1978.01,2858.23 1982.22,2858.99" fill="none" stroke="#00BDF2" stroke-width="3.3" stroke-linejoin="round" />
<polyline points="1709.08,3158.9 1722.64,3133.6 1735.43,3109.49 1747.54,3086.43 1759.03,3067.03 1769.96,3050.27 1780.39,3029.63 1790.36,3008.55 1799.91,2991.69 1809.07,2972.09 1817.87,2955.79 1826.34,2938.88 1834.51,2923.6 1842.39,2907.95 1850.01,2894.91 1857.37,2880.22 1864.51,2865.76 1871.42,2853.59 1878.13,2843.97 1884.65,2836.93 1890.98,2831.36 1897.15,2826.79 1903.14,2823.66 1908.99,2821.42 1914.68,2820.47 1920.23,2819.97 1925.66,2820.17 1930.95,2821.62 1936.12,2823.36 1941.18,2825.52 1946.13,2827.9 1950.97,2830.47 1955.71,2833.13 1960.35,2835.67 1964.9,2838.15 1969.35,2840.63 1973.73,2843.14 1978.01,2845.64 1982.22,2848.1" fill="none" stroke="#C8102E" stroke-width="3.3" stroke-linejoin="round" />
<polyline points="1709.08,3161.1 1722.64,3135.8 1735.43,3111.69 1747.54,3088.63 1759.03,3069.23 1769.96,3052.47 1780.39,3031.83 1790.36,3010.75 1799.91,2993.89 1809.07,2974.29 1817.87,2957.99 1826.34,2941.08 1834.51,2925.8 1842.39,2910.15 1850.01,2897.11 1857.37,2882.42 1864.51,2867.96 1871.42,2855.79 1878.13,2846.17 1884.65,2839.13 1890.98,2833.56 1897.15,2828.99 1903.14,2825.86 1908.99,2823.62 1914.68,2822.67 1920.23,2822.17 1925.66,2822.37 1930.95,2823.82 1936.12,2825.56 1941.18,2827.72 1946.13,2830.1 1950.97,2832.67 1955.71,2835.33 1960.35,2837.87 1964.9,2840.35 1969.35,2842.83 1973.73,2845.34 1978.01,2847.84 1982.22,2850.3" fill="none" stroke="#C8102E" stroke-width="3.3" stroke-linejoin="round" />
</g>
<g fill="#C8102E">
<circle cx="300.41" cy="2468.28" r="7.9"/><circle cx="445.36" cy="2493.15" r="7.9"/><circle cx="532.93" cy="2507.8" r="7.9"/><circle cx="595.87" cy="2517.34" r="7.9"/><circle cx="645.04" cy="2523.81" r="7.9"/><circle cx="685.39" cy="2527.22" r="7.9"/><circle cx="719.62" cy="2528.92" r="7.9"/><circle cx="749.33" cy="2530.96" r="7.9"/><circle cx="775.59" cy="2532.67" r="7.9"/><circle cx="799.11" cy="2533.01" r="7.9"/><circle cx="820.41" cy="2532.67" r="7.9"/><circle cx="904.32" cy="2526.88" r="7.9"/><circle cx="965.36" cy="2510.52" r="7.9"/><circle cx="1013.36" cy="2490.08" r="7.9"/><circle cx="1052.93" cy="2459.08" r="7.9"/><circle cx="1086.59" cy="2424.67" r="7.9"/><circle cx="1115.87" cy="2385.15" r="7.9"/><circle cx="1141.79" cy="2336.77" r="7.9"/><circle cx="1165.04" cy="2292.41" r="7.9"/><circle cx="1186.12" cy="2255.68" r="7.9"/><circle cx="1205.39" cy="2235.79" r="7.9"/><circle cx="1223.15" cy="2236.13" r="7.9"/><circle cx="1239.62" cy="2266.52" r="7.9"/><circle cx="1254.96" cy="2296.36" r="7.9"/><circle cx="1269.33" cy="2326.96" r="7.9"/><circle cx="1282.84" cy="2353.12" r="7.9"/><circle cx="1295.59" cy="2377.11" r="7.9"/><circle cx="1307.65" cy="2395.03" r="7.9"/><circle cx="1319.11" cy="2411.38" r="7.9"/><circle cx="1330.01" cy="2425.35" r="7.9"/><circle cx="1340.41" cy="2438.98" r="7.9"/><circle cx="1402.53" cy="2498.4" r="7.9"/><circle cx="1451.2" cy="2534.95" r="7.9"/><circle cx="1491.22" cy="2559.05" r="7.9"/><circle cx="1525.21" cy="2576.5" r="7.9"/><circle cx="1554.74" cy="2589.4" r="7.9"/><circle cx="1580.85" cy="2597.72" r="7.9"/><circle cx="1604.26" cy="2601.26" r="7.9"/><circle cx="1625.46" cy="2601.03" r="7.9"/><circle cx="1644.85" cy="2595.49" r="7.9"/><circle cx="1662.7" cy="2585.66" r="7.9"/><circle cx="1679.24" cy="2574.93" r="7.9"/><circle cx="1694.65" cy="2567.06" r="7.9"/><circle cx="1709.08" cy="2564.03" r="7.9"/><circle cx="1722.64" cy="2565.9" r="7.9"/><circle cx="1735.43" cy="2571.74" r="7.9"/><circle cx="1747.54" cy="2580.49" r="7.9"/><circle cx="1759.03" cy="2590.53" r="7.9"/><circle cx="1769.96" cy="2600.01" r="7.9"/><circle cx="1780.39" cy="2608.83" r="7.9"/><circle cx="1790.36" cy="2616.88" r="7.9"/><circle cx="1799.91" cy="2624.17" r="7.9"/><circle cx="1809.07" cy="2630.98" r="7.9"/><circle cx="1817.87" cy="2636.77" r="7.9"/><circle cx="1826.34" cy="2641.19" r="7.9"/><circle cx="1834.51" cy="2644.78" r="7.9"/><circle cx="1842.39" cy="2647.6" r="7.9"/><circle cx="1850.01" cy="2649.86" r="7.9"/><circle cx="1857.37" cy="2651.73" r="7.9"/><circle cx="1864.51" cy="2653.28" r="7.9"/><circle cx="1871.42" cy="2654.58" r="7.9"/><circle cx="1878.13" cy="2655.72" r="7.9"/><circle cx="1884.65" cy="2656.7" r="7.9"/><circle cx="1890.98" cy="2657.52" r="7.9"/><circle cx="1897.15" cy="2658.31" r="7.9"/><circle cx="1903.14" cy="2659.21" r="7.9"/><circle cx="1908.99" cy="2660.2" r="7.9"/><circle cx="1914.68" cy="2661.29" r="7.9"/><circle cx="1920.23" cy="2662.53" r="7.9"/><circle cx="1925.66" cy="2663.99" r="7.9"/><circle cx="1930.95" cy="2665.78" r="7.9"/><circle cx="1936.12" cy="2667.78" r="7.9"/><circle cx="1941.18" cy="2669.86" r="7.9"/><circle cx="1946.13" cy="2671.96" r="7.9"/><circle cx="1950.97" cy="2674.26" r="7.9"/><circle cx="1955.71" cy="2676.59" r="7.9"/><circle cx="1960.35" cy="2678.83" r="7.9"/><circle cx="1964.9" cy="2680.82" r="7.9"/><circle cx="1969.35" cy="2682.6" r="7.9"/><circle cx="1973.73" cy="2684.27" r="7.9"/><circle cx="1978.01" cy="2685.87" r="7.9"/><circle cx="1982.22" cy="2687.46" r="7.9"/>
</g>
<g fill="#00BDF2">
<circle cx="300.41" cy="2876" r="7.9"/><circle cx="445.36" cy="2845.6" r="7.9"/><circle cx="532.93" cy="2830" r="7.9"/><circle cx="595.87" cy="2818.1" r="7.9"/><circle cx="645.04" cy="2810.3" r="7.9"/><circle cx="685.39" cy="2802.6" r="7.9"/><circle cx="719.62" cy="2798.1" r="7.9"/><circle cx="749.33" cy="2793.8" r="7.9"/><circle cx="775.59" cy="2790" r="7.9"/><circle cx="799.11" cy="2785.2" r="7.9"/><circle cx="820.41" cy="2781.7" r="7.9"/><circle cx="904.32" cy="2774.4" r="7.9"/><circle cx="965.36" cy="2770.1" r="7.9"/><circle cx="1013.36" cy="2767.2" r="7.9"/><circle cx="1052.93" cy="2766.6" r="7.9"/><circle cx="1086.59" cy="2766.8" r="7.9"/><circle cx="1115.87" cy="2767" r="7.9"/><circle cx="1141.79" cy="2768.4" r="7.9"/><circle cx="1165.04" cy="2769.3" r="7.9"/><circle cx="1186.12" cy="2770.7" r="7.9"/><circle cx="1205.39" cy="2772.8" r="7.9"/><circle cx="1223.15" cy="2775.1" r="7.9"/><circle cx="1239.62" cy="2777.4" r="7.9"/><circle cx="1254.96" cy="2779.4" r="7.9"/><circle cx="1269.33" cy="2781.5" r="7.9"/><circle cx="1282.84" cy="2783.2" r="7.9"/><circle cx="1295.59" cy="2785.2" r="7.9"/><circle cx="1307.65" cy="2787.2" r="7.9"/><circle cx="1319.11" cy="2789" r="7.9"/><circle cx="1330.01" cy="2790.4" r="7.9"/><circle cx="1340.41" cy="2791.9" r="7.9"/><circle cx="1402.53" cy="2804.4" r="7.9"/><circle cx="1451.2" cy="2816.2" r="7.9"/><circle cx="1491.22" cy="2826.4" r="7.9"/><circle cx="1525.21" cy="2836.2" r="7.9"/><circle cx="1554.74" cy="2845.3" r="7.9"/><circle cx="1580.85" cy="2852.6" r="7.9"/><circle cx="1604.26" cy="2861.8" r="7.9"/><circle cx="1625.46" cy="2868.2" r="7.9"/><circle cx="1644.85" cy="2875.5" r="7.9"/><circle cx="1662.7" cy="2881.5" r="7.9"/><circle cx="1679.24" cy="2887.7" r="7.9"/><circle cx="1694.65" cy="2893.9" r="7.9"/><circle cx="1709.08" cy="2897.96" r="7.9"/><circle cx="1722.64" cy="2903.15" r="7.9"/><circle cx="1735.43" cy="2908.62" r="7.9"/><circle cx="1747.54" cy="2913.67" r="7.9"/><circle cx="1759.03" cy="2917.93" r="7.9"/><circle cx="1769.96" cy="2921.74" r="7.9"/><circle cx="1780.39" cy="2925.29" r="7.9"/><circle cx="1790.36" cy="2928.73" r="7.9"/><circle cx="1799.91" cy="2932.16" r="7.9"/><circle cx="1809.07" cy="2935.6" r="7.9"/><circle cx="1817.87" cy="2938.99" r="7.9"/><circle cx="1826.34" cy="2942.25" r="7.9"/><circle cx="1834.51" cy="2945.32" r="7.9"/><circle cx="1842.39" cy="2948.16" r="7.9"/><circle cx="1850.01" cy="2950.76" r="7.9"/><circle cx="1857.37" cy="2953.17" r="7.9"/><circle cx="1864.51" cy="2955.45" r="7.9"/><circle cx="1871.42" cy="2957.64" r="7.9"/><circle cx="1878.13" cy="2959.78" r="7.9"/><circle cx="1884.65" cy="2961.9" r="7.9"/><circle cx="1890.98" cy="2964.03" r="7.9"/><circle cx="1897.15" cy="2966.18" r="7.9"/><circle cx="1903.14" cy="2968.32" r="7.9"/><circle cx="1908.99" cy="2970.42" r="7.9"/><circle cx="1914.68" cy="2972.48" r="7.9"/><circle cx="1920.23" cy="2974.46" r="7.9"/><circle cx="1925.66" cy="2976.35" r="7.9"/><circle cx="1930.95" cy="2978.13" r="7.9"/><circle cx="1936.12" cy="2979.81" r="7.9"/><circle cx="1941.18" cy="2981.38" r="7.9"/><circle cx="1946.13" cy="2982.87" r="7.9"/><circle cx="1950.97" cy="2984.29" r="7.9"/><circle cx="1955.71" cy="2985.66" r="7.9"/><circle cx="1960.35" cy="2986.99" r="7.9"/><circle cx="1964.9" cy="2988.29" r="7.9"/><circle cx="1969.35" cy="2989.57" r="7.9"/><circle cx="1973.73" cy="2990.84" r="7.9"/><circle cx="1978.01" cy="2992.12" r="7.9"/><circle cx="1982.22" cy="2993.4" r="7.9"/>
</g>
<g fill="#56B010">
<circle cx="300.41" cy="2471.3" r="7.9"/><circle cx="445.36" cy="2503.1" r="7.9"/><circle cx="532.93" cy="2521.1" r="7.9"/><circle cx="595.87" cy="2533.2" r="7.9"/><circle cx="645.04" cy="2543.4" r="7.9"/><circle cx="685.39" cy="2551.5" r="7.9"/><circle cx="719.62" cy="2557.3" r="7.9"/><circle cx="749.33" cy="2561" r="7.9"/><circle cx="775.59" cy="2565.1" r="7.9"/><circle cx="799.11" cy="2568.3" r="7.9"/><circle cx="820.41" cy="2571.2" r="7.9"/><circle cx="904.32" cy="2574.6" r="7.9"/><circle cx="965.36" cy="2565.1" r="7.9"/><circle cx="1013.36" cy="2547.1" r="7.9"/><circle cx="1052.93" cy="2519.6" r="7.9"/><circle cx="1086.59" cy="2484.2" r="7.9"/><circle cx="1115.87" cy="2440" r="7.9"/><circle cx="1141.79" cy="2394.8" r="7.9"/><circle cx="1165.04" cy="2354.5" r="7.9"/><circle cx="1186.12" cy="2338.7" r="7.9"/><circle cx="1205.39" cy="2350.6" r="7.9"/><circle cx="1223.15" cy="2379.2" r="7.9"/><circle cx="1239.62" cy="2410.4" r="7.9"/><circle cx="1254.96" cy="2438.4" r="7.9"/><circle cx="1269.33" cy="2462.6" r="7.9"/><circle cx="1282.84" cy="2484.3" r="7.9"/><circle cx="1295.59" cy="2502.6" r="7.9"/><circle cx="1307.65" cy="2518.5" r="7.9"/><circle cx="1319.11" cy="2532.1" r="7.9"/><circle cx="1330.01" cy="2543.1" r="7.9"/><circle cx="1340.41" cy="2553.3" r="7.9"/><circle cx="1402.53" cy="2610.3" r="7.9"/><circle cx="1451.2" cy="2646.1" r="7.9"/><circle cx="1491.22" cy="2669.2" r="7.9"/><circle cx="1525.21" cy="2689.2" r="7.9"/><circle cx="1554.74" cy="2704.7" r="7.9"/><circle cx="1580.85" cy="2718.8" r="7.9"/><circle cx="1604.26" cy="2730.6" r="7.9"/><circle cx="1625.46" cy="2743.5" r="7.9"/><circle cx="1644.85" cy="2752.2" r="7.9"/><circle cx="1662.7" cy="2757.5" r="7.9"/><circle cx="1679.24" cy="2769.32" r="7.9"/><circle cx="1694.65" cy="2777.62" r="7.9"/><circle cx="1709.08" cy="2784.02" r="7.9"/><circle cx="1722.64" cy="2790.74" r="7.9"/><circle cx="1735.43" cy="2796.35" r="7.9"/><circle cx="1747.54" cy="2800.9" r="7.9"/><circle cx="1759.03" cy="2805.5" r="7.9"/><circle cx="1769.96" cy="2810.19" r="7.9"/><circle cx="1780.39" cy="2814.6" r="7.9"/><circle cx="1790.36" cy="2818.66" r="7.9"/><circle cx="1799.91" cy="2822.46" r="7.9"/><circle cx="1809.07" cy="2826.09" r="7.9"/><circle cx="1817.87" cy="2829.59" r="7.9"/><circle cx="1826.34" cy="2832.99" r="7.9"/><circle cx="1834.51" cy="2836.29" r="7.9"/><circle cx="1842.39" cy="2839.47" r="7.9"/><circle cx="1850.01" cy="2842.52" r="7.9"/><circle cx="1857.37" cy="2845.45" r="7.9"/><circle cx="1864.51" cy="2848.25" r="7.9"/><circle cx="1871.42" cy="2850.92" r="7.9"/><circle cx="1878.13" cy="2853.49" r="7.9"/><circle cx="1884.65" cy="2855.97" r="7.9"/><circle cx="1890.98" cy="2858.36" r="7.9"/><circle cx="1897.15" cy="2860.65" r="7.9"/><circle cx="1903.14" cy="2862.87" r="7.9"/><circle cx="1908.99" cy="2865.01" r="7.9"/><circle cx="1914.68" cy="2867.07" r="7.9"/><circle cx="1920.23" cy="2869.04" r="7.9"/><circle cx="1925.66" cy="2870.92" r="7.9"/><circle cx="1930.95" cy="2872.75" r="7.9"/><circle cx="1936.12" cy="2874.53" r="7.9"/><circle cx="1941.18" cy="2876.28" r="7.9"/><circle cx="1946.13" cy="2877.99" r="7.9"/><circle cx="1950.97" cy="2879.7" r="7.9"/><circle cx="1955.71" cy="2881.39" r="7.9"/><circle cx="1960.35" cy="2883.09" r="7.9"/><circle cx="1964.9" cy="2884.77" r="7.9"/><circle cx="1969.35" cy="2886.45" r="7.9"/><circle cx="1973.73" cy="2888.1" r="7.9"/><circle cx="1978.01" cy="2889.73" r="7.9"/><circle cx="1982.22" cy="2891.34" r="7.9"/>
</g>
<g fill="#9A2CA0">
<circle cx="300.41" cy="2787.5" r="7.9"/><circle cx="445.36" cy="2760.5" r="7.9"/><circle cx="532.93" cy="2744.6" r="7.9"/><circle cx="595.87" cy="2732.5" r="7.9"/><circle cx="645.04" cy="2724.6" r="7.9"/><circle cx="685.39" cy="2717" r="7.9"/><circle cx="719.62" cy="2712.8" r="7.9"/><circle cx="749.33" cy="2707.8" r="7.9"/><circle cx="775.59" cy="2704.4" r="7.9"/><circle cx="799.11" cy="2701.5" r="7.9"/><circle cx="820.41" cy="2699.7" r="7.9"/><circle cx="904.32" cy="2689.6" r="7.9"/><circle cx="965.36" cy="2686.1" r="7.9"/><circle cx="1013.36" cy="2683.8" r="7.9"/><circle cx="1052.93" cy="2683.8" r="7.9"/><circle cx="1086.59" cy="2683.9" r="7.9"/><circle cx="1115.87" cy="2683.9" r="7.9"/><circle cx="1141.79" cy="2685.3" r="7.9"/><circle cx="1165.04" cy="2687.3" r="7.9"/><circle cx="1186.12" cy="2688.2" r="7.9"/><circle cx="1205.39" cy="2690.2" r="7.9"/><circle cx="1223.15" cy="2692.6" r="7.9"/><circle cx="1239.62" cy="2694" r="7.9"/><circle cx="1254.96" cy="2696.3" r="7.9"/><circle cx="1269.33" cy="2698.3" r="7.9"/><circle cx="1282.84" cy="2700.7" r="7.9"/><circle cx="1295.59" cy="2702.7" r="7.9"/><circle cx="1307.65" cy="2704.7" r="7.9"/><circle cx="1319.11" cy="2706.2" r="7.9"/><circle cx="1330.01" cy="2707.6" r="7.9"/><circle cx="1340.41" cy="2709.1" r="7.9"/><circle cx="1402.53" cy="2721.2" r="7.9"/><circle cx="1451.2" cy="2733" r="7.9"/><circle cx="1491.22" cy="2740.9" r="7.9"/><circle cx="1525.21" cy="2746.3" r="7.9"/><circle cx="1554.74" cy="2748.3" r="7.9"/><circle cx="1580.85" cy="2745.7" r="7.9"/><circle cx="1604.26" cy="2739.2" r="7.9"/><circle cx="1625.46" cy="2731.7" r="7.9"/><circle cx="1644.85" cy="2715.5" r="7.9"/><circle cx="1662.7" cy="2700.4" r="7.9"/><circle cx="1679.24" cy="2681" r="7.9"/><circle cx="1694.65" cy="2672.79" r="7.9"/><circle cx="1709.08" cy="2669.7" r="7.9"/><circle cx="1722.64" cy="2671.73" r="7.9"/><circle cx="1735.43" cy="2677.43" r="7.9"/><circle cx="1747.54" cy="2690.4" r="7.9"/><circle cx="1759.03" cy="2702.74" r="7.9"/><circle cx="1769.96" cy="2713.65" r="7.9"/><circle cx="1780.39" cy="2723.58" r="7.9"/><circle cx="1790.36" cy="2732.63" r="7.9"/><circle cx="1799.91" cy="2740.21" r="7.9"/><circle cx="1809.07" cy="2746.12" r="7.9"/><circle cx="1817.87" cy="2751.11" r="7.9"/><circle cx="1826.34" cy="2755.94" r="7.9"/><circle cx="1834.51" cy="2761.15" r="7.9"/><circle cx="1842.39" cy="2766.81" r="7.9"/><circle cx="1850.01" cy="2772.25" r="7.9"/><circle cx="1857.37" cy="2776.91" r="7.9"/><circle cx="1864.51" cy="2780.84" r="7.9"/><circle cx="1871.42" cy="2785.04" r="7.9"/><circle cx="1878.13" cy="2790.17" r="7.9"/><circle cx="1884.65" cy="2795.32" r="7.9"/><circle cx="1890.98" cy="2799.45" r="7.9"/><circle cx="1897.15" cy="2802.73" r="7.9"/><circle cx="1903.14" cy="2805.67" r="7.9"/><circle cx="1908.99" cy="2808.64" r="7.9"/><circle cx="1914.68" cy="2811.93" r="7.9"/><circle cx="1920.23" cy="2815.47" r="7.9"/><circle cx="1925.66" cy="2819.08" r="7.9"/><circle cx="1930.95" cy="2822.62" r="7.9"/><circle cx="1936.12" cy="2825.95" r="7.9"/><circle cx="1941.18" cy="2828.97" r="7.9"/><circle cx="1946.13" cy="2831.78" r="7.9"/><circle cx="1950.97" cy="2834.45" r="7.9"/><circle cx="1955.71" cy="2836.99" r="7.9"/><circle cx="1960.35" cy="2839.44" r="7.9"/><circle cx="1964.9" cy="2841.8" r="7.9"/><circle cx="1969.35" cy="2844.11" r="7.9"/><circle cx="1973.73" cy="2846.36" r="7.9"/><circle cx="1978.01" cy="2848.59" r="7.9"/><circle cx="1982.22" cy="2850.8" r="7.9"/>
</g>
<g fill="#FFB000">
<circle cx="445.36" cy="3069.4" r="7.9"/><circle cx="532.93" cy="3010.6" r="7.9"/><circle cx="595.87" cy="2966.6" r="7.9"/><circle cx="645.04" cy="2932.5" r="7.9"/><circle cx="685.39" cy="2902.9" r="7.9"/><circle cx="719.62" cy="2876.9" r="7.9"/><circle cx="749.33" cy="2855.2" r="7.9"/><circle cx="775.59" cy="2835.5" r="7.9"/><circle cx="799.11" cy="2818.1" r="7.9"/><circle cx="820.41" cy="2802.2" r="7.9"/><circle cx="904.32" cy="2731" r="7.9"/><circle cx="965.36" cy="2674" r="7.9"/><circle cx="1013.36" cy="2622.4" r="7.9"/><circle cx="1052.93" cy="2573.2" r="7.9"/><circle cx="1086.59" cy="2526" r="7.9"/><circle cx="1115.87" cy="2476.5" r="7.9"/><circle cx="1141.79" cy="2425.1" r="7.9"/><circle cx="1165.04" cy="2368.5" r="7.9"/><circle cx="1186.12" cy="2315.4" r="7.9"/><circle cx="1205.39" cy="2274.1" r="7.9"/><circle cx="1223.15" cy="2262.7" r="7.9"/><circle cx="1239.62" cy="2287.2" r="7.9"/><circle cx="1254.96" cy="2321.5" r="7.9"/><circle cx="1269.33" cy="2356.7" r="7.9"/><circle cx="1282.84" cy="2387.1" r="7.9"/><circle cx="1295.59" cy="2412.7" r="7.9"/><circle cx="1307.65" cy="2434.2" r="7.9"/><circle cx="1319.11" cy="2454.2" r="7.9"/><circle cx="1330.01" cy="2470.2" r="7.9"/><circle cx="1340.41" cy="2485.8" r="7.9"/><circle cx="1402.53" cy="2558.6" r="7.9"/><circle cx="1451.2" cy="2602.4" r="7.9"/><circle cx="1491.22" cy="2636.2" r="7.9"/><circle cx="1525.21" cy="2659.9" r="7.9"/><circle cx="1554.74" cy="2679.3" r="7.9"/><circle cx="1580.85" cy="2697.2" r="7.9"/><circle cx="1604.26" cy="2711.2" r="7.9"/><circle cx="1625.46" cy="2723.1" r="7.9"/><circle cx="1644.85" cy="2734.9" r="7.9"/><circle cx="1662.7" cy="2744.6" r="7.9"/><circle cx="1679.24" cy="2753.2" r="7.9"/><circle cx="1694.65" cy="2764.86" r="7.9"/><circle cx="1709.08" cy="2771.24" r="7.9"/><circle cx="1722.64" cy="2776.66" r="7.9"/><circle cx="1735.43" cy="2781.79" r="7.9"/><circle cx="1747.54" cy="2786.63" r="7.9"/><circle cx="1759.03" cy="2791.08" r="7.9"/><circle cx="1769.96" cy="2794.53" r="7.9"/><circle cx="1780.39" cy="2797.33" r="7.9"/><circle cx="1790.36" cy="2799.6" r="7.9"/><circle cx="1799.91" cy="2801.68" r="7.9"/><circle cx="1809.07" cy="2802.5" r="7.9"/><circle cx="1817.87" cy="2802.15" r="7.9"/><circle cx="1826.34" cy="2801.46" r="7.9"/><circle cx="1834.51" cy="2800.67" r="7.9"/><circle cx="1842.39" cy="2799.62" r="7.9"/><circle cx="1850.01" cy="2798.31" r="7.9"/><circle cx="1857.37" cy="2796.76" r="7.9"/><circle cx="1864.51" cy="2794.61" r="7.9"/><circle cx="1871.42" cy="2792.36" r="7.9"/><circle cx="1878.13" cy="2790.54" r="7.9"/><circle cx="1884.65" cy="2788.85" r="7.9"/><circle cx="1890.98" cy="2787.33" r="7.9"/><circle cx="1897.15" cy="2786.41" r="7.9"/><circle cx="1903.14" cy="2786.33" r="7.9"/><circle cx="1908.99" cy="2786.53" r="7.9"/><circle cx="1914.68" cy="2786.86" r="7.9"/><circle cx="1920.23" cy="2787.28" r="7.9"/><circle cx="1925.66" cy="2787.84" r="7.9"/><circle cx="1930.95" cy="2788.9" r="7.9"/><circle cx="1936.12" cy="2790.33" r="7.9"/><circle cx="1941.18" cy="2791.96" r="7.9"/><circle cx="1946.13" cy="2793.64" r="7.9"/><circle cx="1950.97" cy="2795.52" r="7.9"/><circle cx="1955.71" cy="2797.69" r="7.9"/><circle cx="1960.35" cy="2800.04" r="7.9"/><circle cx="1964.9" cy="2802.47" r="7.9"/><circle cx="1969.35" cy="2804.92" r="7.9"/><circle cx="1973.73" cy="2807.51" r="7.9"/><circle cx="1978.01" cy="2810.23" r="7.9"/><circle cx="1982.22" cy="2813" r="7.9"/>
</g>
<g fill="#FF5014">
<circle cx="1402.53" cy="3108.4" r="7.9"/><circle cx="1451.2" cy="3047.5" r="7.9"/><circle cx="1491.22" cy="2993.2" r="7.9"/><circle cx="1525.21" cy="2946.9" r="7.9"/><circle cx="1554.74" cy="2904.4" r="7.9"/><circle cx="1580.85" cy="2860.7" r="7.9"/><circle cx="1604.26" cy="2820.8" r="7.9"/><circle cx="1625.46" cy="2784.7" r="7.9"/><circle cx="1644.85" cy="2748.5" r="7.9"/><circle cx="1662.7" cy="2716.4" r="7.9"/><circle cx="1679.24" cy="2689.7" r="7.9"/><circle cx="1694.65" cy="2670.3" r="7.9"/><circle cx="1709.08" cy="2659.33" r="7.9"/><circle cx="1722.64" cy="2655.93" r="7.9"/><circle cx="1735.43" cy="2661.46" r="7.9"/><circle cx="1747.54" cy="2670.66" r="7.9"/><circle cx="1759.03" cy="2683.3" r="7.9"/><circle cx="1769.96" cy="2698.25" r="7.9"/><circle cx="1780.39" cy="2711.84" r="7.9"/><circle cx="1790.36" cy="2723.63" r="7.9"/><circle cx="1799.91" cy="2735.02" r="7.9"/><circle cx="1809.07" cy="2746.5" r="7.9"/><circle cx="1817.87" cy="2756.85" r="7.9"/><circle cx="1826.34" cy="2765.23" r="7.9"/><circle cx="1834.51" cy="2772.41" r="7.9"/><circle cx="1842.39" cy="2779.25" r="7.9"/><circle cx="1850.01" cy="2785.83" r="7.9"/><circle cx="1857.37" cy="2792.13" r="7.9"/><circle cx="1864.51" cy="2798.82" r="7.9"/><circle cx="1871.42" cy="2807.03" r="7.9"/><circle cx="1878.13" cy="2814.44" r="7.9"/><circle cx="1884.65" cy="2819.53" r="7.9"/><circle cx="1890.98" cy="2823.72" r="7.9"/><circle cx="1897.15" cy="2827.38" r="7.9"/><circle cx="1903.14" cy="2830.81" r="7.9"/><circle cx="1908.99" cy="2833.93" r="7.9"/><circle cx="1914.68" cy="2836.77" r="7.9"/><circle cx="1920.23" cy="2839.35" r="7.9"/><circle cx="1925.66" cy="2841.72" r="7.9"/><circle cx="1930.95" cy="2843.93" r="7.9"/><circle cx="1936.12" cy="2845.97" r="7.9"/><circle cx="1941.18" cy="2847.81" r="7.9"/><circle cx="1946.13" cy="2849.43" r="7.9"/><circle cx="1950.97" cy="2850.88" r="7.9"/><circle cx="1955.71" cy="2852.19" r="7.9"/><circle cx="1960.35" cy="2853.38" r="7.9"/><circle cx="1964.9" cy="2854.47" r="7.9"/><circle cx="1969.35" cy="2855.46" r="7.9"/><circle cx="1973.73" cy="2856.34" r="7.9"/><circle cx="1978.01" cy="2857.13" r="7.9"/><circle cx="1982.22" cy="2857.89" r="7.9"/>
</g>
<g fill="#0072BD">
<circle cx="1735.43" cy="3110.59" r="7.9"/><circle cx="1747.54" cy="3087.53" r="7.9"/><circle cx="1759.03" cy="3068.13" r="7.9"/><circle cx="1769.96" cy="3051.37" r="7.9"/><circle cx="1780.39" cy="3030.73" r="7.9"/><circle cx="1790.36" cy="3009.65" r="7.9"/><circle cx="1799.91" cy="2992.79" r="7.9"/><circle cx="1809.07" cy="2973.19" r="7.9"/><circle cx="1817.87" cy="2956.89" r="7.9"/><circle cx="1826.34" cy="2939.98" r="7.9"/><circle cx="1834.51" cy="2924.7" r="7.9"/><circle cx="1842.39" cy="2909.05" r="7.9"/><circle cx="1850.01" cy="2896.01" r="7.9"/><circle cx="1857.37" cy="2881.32" r="7.9"/><circle cx="1864.51" cy="2866.86" r="7.9"/><circle cx="1871.42" cy="2854.69" r="7.9"/><circle cx="1878.13" cy="2845.07" r="7.9"/><circle cx="1884.65" cy="2838.03" r="7.9"/><circle cx="1890.98" cy="2832.46" r="7.9"/><circle cx="1897.15" cy="2827.89" r="7.9"/><circle cx="1903.14" cy="2824.76" r="7.9"/><circle cx="1908.99" cy="2822.52" r="7.9"/><circle cx="1914.68" cy="2821.57" r="7.9"/><circle cx="1920.23" cy="2821.07" r="7.9"/><circle cx="1925.66" cy="2821.27" r="7.9"/><circle cx="1930.95" cy="2822.72" r="7.9"/><circle cx="1936.12" cy="2824.46" r="7.9"/><circle cx="1941.18" cy="2826.62" r="7.9"/><circle cx="1946.13" cy="2829" r="7.9"/><circle cx="1950.97" cy="2831.57" r="7.9"/><circle cx="1955.71" cy="2834.23" r="7.9"/><circle cx="1960.35" cy="2836.77" r="7.9"/><circle cx="1964.9" cy="2839.25" r="7.9"/><circle cx="1969.35" cy="2841.73" r="7.9"/><circle cx="1973.73" cy="2844.24" r="7.9"/><circle cx="1978.01" cy="2846.74" r="7.9"/><circle cx="1982.22" cy="2849.2" r="7.9"/>
</g>
<path d="M1685.9 1862.7H1804.6" stroke="#0072BD" stroke-width="6.0"/>
<text x="1815" y="1883.3" font-size="58">Total</text>
<path d="M1685.9 1929.6H1804.6" stroke="#FF5014" stroke-width="6.0"/>
<text x="1815" y="1950.6" font-size="58"><tspan font-style="italic">J</tspan> = 0</text>
<path d="M1685.9 1997.1H1804.6" stroke="#FFB000" stroke-width="6.0"/>
<text x="1815" y="2016" font-size="58"><tspan font-style="italic">J</tspan> = 1</text>
<path d="M1685.9 2064.4H1804.6" stroke="#9A2CA0" stroke-width="6.0"/>
<text x="1815" y="2083" font-size="58"><tspan font-style="italic">J</tspan> = 2</text>
<path d="M1685.9 2131.6H1804.6" stroke="#56B010" stroke-width="6.0"/>
<text x="1815" y="2150" font-size="58"><tspan font-style="italic">J</tspan> = 3</text>
<path d="M1685.9 2198.7H1804.6" stroke="#00BDF2" stroke-width="6.0"/>
<text x="1815" y="2217.5" font-size="58"><tspan font-style="italic">J</tspan> = 4</text>
<path d="M1685.9 2266H1804.6" stroke="#C8102E" stroke-width="6.0"/>
<text x="1815" y="2284.3" font-size="58"><tspan font-style="italic">J</tspan> = 5</text>
<text x="325" y="1886" font-size="80">(b)</text>
<text x="1208.8" y="2086.3" font-size="68" text-anchor="middle">1</text>
<path d="M1207 2114V2177.5" stroke="#222" stroke-width="1.7" fill="none"/>
<path d="M1207 2197.5l-15.5 -41l15.5 12l15.5 -12z" fill="#000"/>
<text x="1720" y="2437.2" font-size="68" text-anchor="middle">2</text>
<path d="M1716.7 2463.6V2527.5" stroke="#222" stroke-width="1.7" fill="none"/>
<path d="M1716.7 2547.5l-15.5 -41l15.5 12l15.5 -12z" fill="#000"/>
<text x="1925.2" y="2504.8" font-size="68" text-anchor="middle">3</text>
<path d="M1928 2546V2610" stroke="#222" stroke-width="1.7" fill="none"/>
<path d="M1928 2630l-15.5 -41l15.5 12l15.5 -12z" fill="#000"/>
<text x="266.8" y="3230" font-size="63.5" text-anchor="middle">10<tspan font-size="51" dy="-32">-2</tspan></text>
<text x="786.8" y="3230" font-size="63.5" text-anchor="middle">10<tspan font-size="51" dy="-32">-1</tspan></text>
<text x="1306.8" y="3230" font-size="63.5" text-anchor="middle">10<tspan font-size="51" dy="-32">0</tspan></text>
<text x="1826.8" y="3230" font-size="63.5" text-anchor="middle">10<tspan font-size="51" dy="-32">1</tspan></text>
<text x="243" y="3164.6" font-size="63.5" text-anchor="end">10<tspan font-size="51" dy="-32">-1</tspan></text>
<text x="243" y="2940.73" font-size="63.5" text-anchor="end">10<tspan font-size="51" dy="-32">0</tspan></text>
<text x="243" y="2716.86" font-size="63.5" text-anchor="end">10<tspan font-size="51" dy="-32">1</tspan></text>
<text x="243" y="2492.99" font-size="63.5" text-anchor="end">10<tspan font-size="51" dy="-32">2</tspan></text>
<text x="243" y="2269.12" font-size="63.5" text-anchor="end">10<tspan font-size="51" dy="-32">3</tspan></text>
<text x="243" y="2045.25" font-size="63.5" text-anchor="end">10<tspan font-size="51" dy="-32">4</tspan></text>
<text x="243" y="1821.38" font-size="63.5" text-anchor="end">10<tspan font-size="51" dy="-32">5</tspan></text>
<text x="1123.6" y="3312" font-size="70" text-anchor="middle">Collision Energy (K)</text>
<text transform="translate(112 2461.2) rotate(-90)" font-size="70" text-anchor="middle">Integral Cross Section (bohr<tspan font-size="56" dy="-36.05">2</tspan><tspan dy="36.05">)</tspan></text>
</g>
</svg></body></html>
